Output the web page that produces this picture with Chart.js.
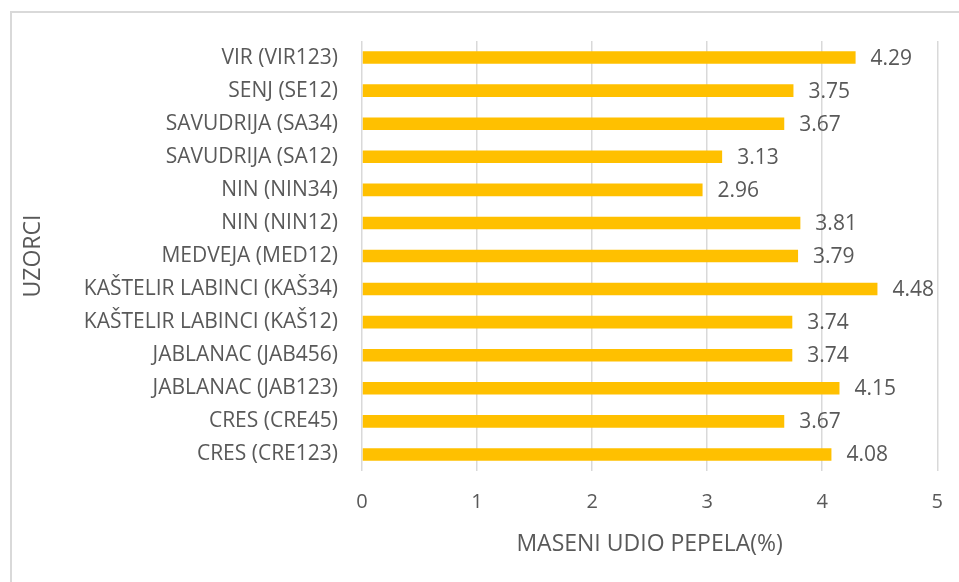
<!DOCTYPE html>
<html>
<head>
<meta charset="utf-8">
<script src="https://cdn.jsdelivr.net/npm/chart.js@4"></script>
<style>
html,body{margin:0;padding:0;background:#fff;overflow:hidden;width:959px;height:582px;}
#frame{position:absolute;left:10px;top:11px;width:1000px;height:640px;border:2px solid #d9d9d9;box-sizing:border-box;}
#c{position:absolute;left:0;top:0;}
</style>
</head>
<body>
<div id="frame"></div>
<canvas id="c" width="959" height="582"></canvas>
<script>
const categories = [
  "VIR (VIR123)",
  "SENJ (SE12)",
  "SAVUDRIJA (SA34)",
  "SAVUDRIJA (SA12)",
  "NIN (NIN34)",
  "NIN (NIN12)",
  "MEDVEJA (MED12)",
  "KAŠTELIR LABINCI (KAŠ34)",
  "KAŠTELIR LABINCI (KAŠ12)",
  "JABLANAC (JAB456)",
  "JABLANAC (JAB123)",
  "CRES (CRE45)",
  "CRES (CRE123)"
];
const ashValues = [4.29, 3.75, 3.67, 3.13, 2.96, 3.81, 3.79, 4.48, 3.74, 3.74, 4.15, 3.67, 4.08];
const xTicks = [0, 1, 2, 3, 4, 5];
const xTitle = "MASENI UDIO PEPELA(%)";
const yTitle = "UZORCI";

const FONT = "'Open Sans', sans-serif";
const TXT = "#595959";

const valueLabels = {
  id: 'valueLabels',
  afterDatasetsDraw(chart) {
    const ctx = chart.ctx;
    const meta = chart.getDatasetMeta(0);
    ctx.save();
    ctx.font = "21px " + FONT;
    ctx.fillStyle = TXT;
    ctx.textAlign = 'left';
    ctx.textBaseline = 'middle';
    meta.data.forEach((bar, i) => {
      ctx.fillText(ashValues[i].toFixed(2), bar.x + 15, bar.y + 1);
    });
    ctx.restore();
  }
};

new Chart(document.getElementById('c'), {
  type: 'bar',
  data: {
    labels: categories,
    datasets: [{
      data: ashValues,
      backgroundColor: '#FFC000',
      borderWidth: 0,
      barPercentage: 0.38,
      categoryPercentage: 1.0
    }]
  },
  options: {
    indexAxis: 'y',
    responsive: false,
    animation: false,
    devicePixelRatio: 1,
    layout: { padding: { top: 41, right: 10, left: 0, bottom: 0 } },
    plugins: { legend: { display: false }, tooltip: { enabled: false } },
    scales: {
      x: {
        min: 0, max: 5,
        afterBuildTicks(scale) { scale.ticks = xTicks.map(v => ({ value: v })); },
        afterFit(scale) { scale.height = 111; },
        grid: { color: '#d9d9d9', lineWidth: 1.5, drawTicks: false },
        border: { display: false },
        ticks: { color: TXT, font: { family: FONT, size: 20, lineHeight: 1.5 }, padding: 16 },
        title: { display: true, text: xTitle, color: TXT, font: { family: FONT, size: 23 }, padding: { top: 0, bottom: 24 } }
      },
      y: {
        afterFit(scale) { scale.width = 362; },
        grid: { display: false },
        border: { display: false },
        ticks: { color: TXT, font: { family: FONT, size: 21 }, padding: 16, autoSkip: false },
        title: { display: true, text: yTitle, color: TXT, font: { family: FONT, size: 23 }, padding: { top: 20, bottom: 0 } }
      }
    }
  },
  plugins: [valueLabels]
});
</script>
</body>
</html>
